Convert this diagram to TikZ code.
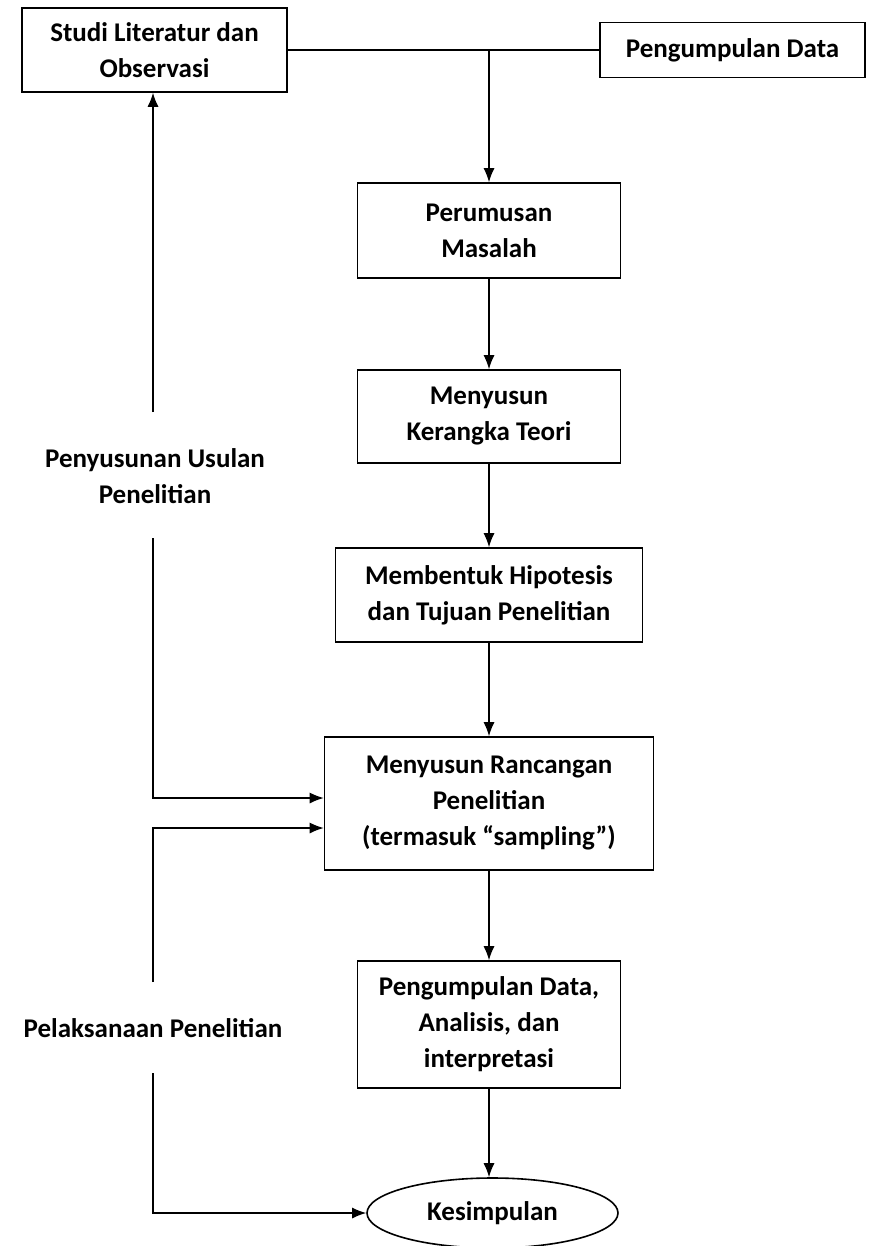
\documentclass[tikz,border=0pt]{standalone}
\usepackage{fontspec}
\setmainfont{Carlito}
\usetikzlibrary{arrows.meta,shapes.geometric}

\begin{document}
\begin{tikzpicture}[x=1pt, y=-1pt,
    txt/.style={align=center, inner sep=0pt, font=\bfseries\fontsize{27}{36}\selectfont},
    box/.style={txt, draw, line width=1.6pt},
    arr/.style={line width=1.2pt, -{Latex[length=14pt, width=11pt]}}]
    \useasboundingbox (0, 0) rectangle (870, 1246);
        \node[box, minimum width=265, minimum height=84] (studi) at (154.5, 50) {Studi Literatur dan\\Observasi};
        \node[box, minimum width=265, minimum height=55] (data) at (732.5, 50) {Pengumpulan Data};
        \node[box, minimum width=263, minimum height=95] (rumus) at (489, 230.5) {Perumusan\\Masalah};
        \node[box, minimum width=263, minimum height=93] (teori) at (489, 416.5) {Menyusun\\Kerangka Teori};
        \node[box, minimum width=307, minimum height=94] (hipo) at (489, 595) {Membentuk Hipotesis\\dan Tujuan Penelitian};
        \node[box, minimum width=329, minimum height=133] (rancang) at (489, 803.5) {Menyusun Rancangan\\Penelitian\\(termasuk “sampling”)};
        \node[box, minimum width=263, minimum height=127] (olah) at (489, 1024.5) {Pengumpulan Data,\\Analisis, dan\\interpretasi};
        \node[box, ellipse, minimum width=251, minimum height=70] (simpul) at (492.5, 1213) {Kesimpulan};
        \node[txt] (usulan) at (155, 476) {Penyusunan Usulan\\Penelitian};
        \node[txt] (laksana) at (153, 1028) {Pelaksanaan Penelitian};
        \coordinate (j) at (489, 50);
        \coordinate (u1) at (153, 412);
        \coordinate (u2) at (153, 538);
        \coordinate (l1) at (153, 982);
        \coordinate (l2) at (153, 1073);
        \draw[line width=1.2pt] (studi.east) -- (data.west);
        \draw[arr] (j) -- (rumus.north);
        \draw[arr] (rumus) -- (teori);
        \draw[arr] (teori) -- (hipo);
        \draw[arr] (hipo) -- (rancang);
        \draw[arr] (rancang) -- (olah);
        \draw[arr] (olah.south) -- (olah.south |- simpul.north);
        \draw[arr] (u1) -- (u1 |- studi.south);
        \draw[arr] (u2) |- (rancang.west |- 0, 798);
        \draw[arr] (l1) |- (rancang.west |- 0, 828);
        \draw[arr] (l2) |- (simpul.west);
    \end{tikzpicture}
\end{document}
